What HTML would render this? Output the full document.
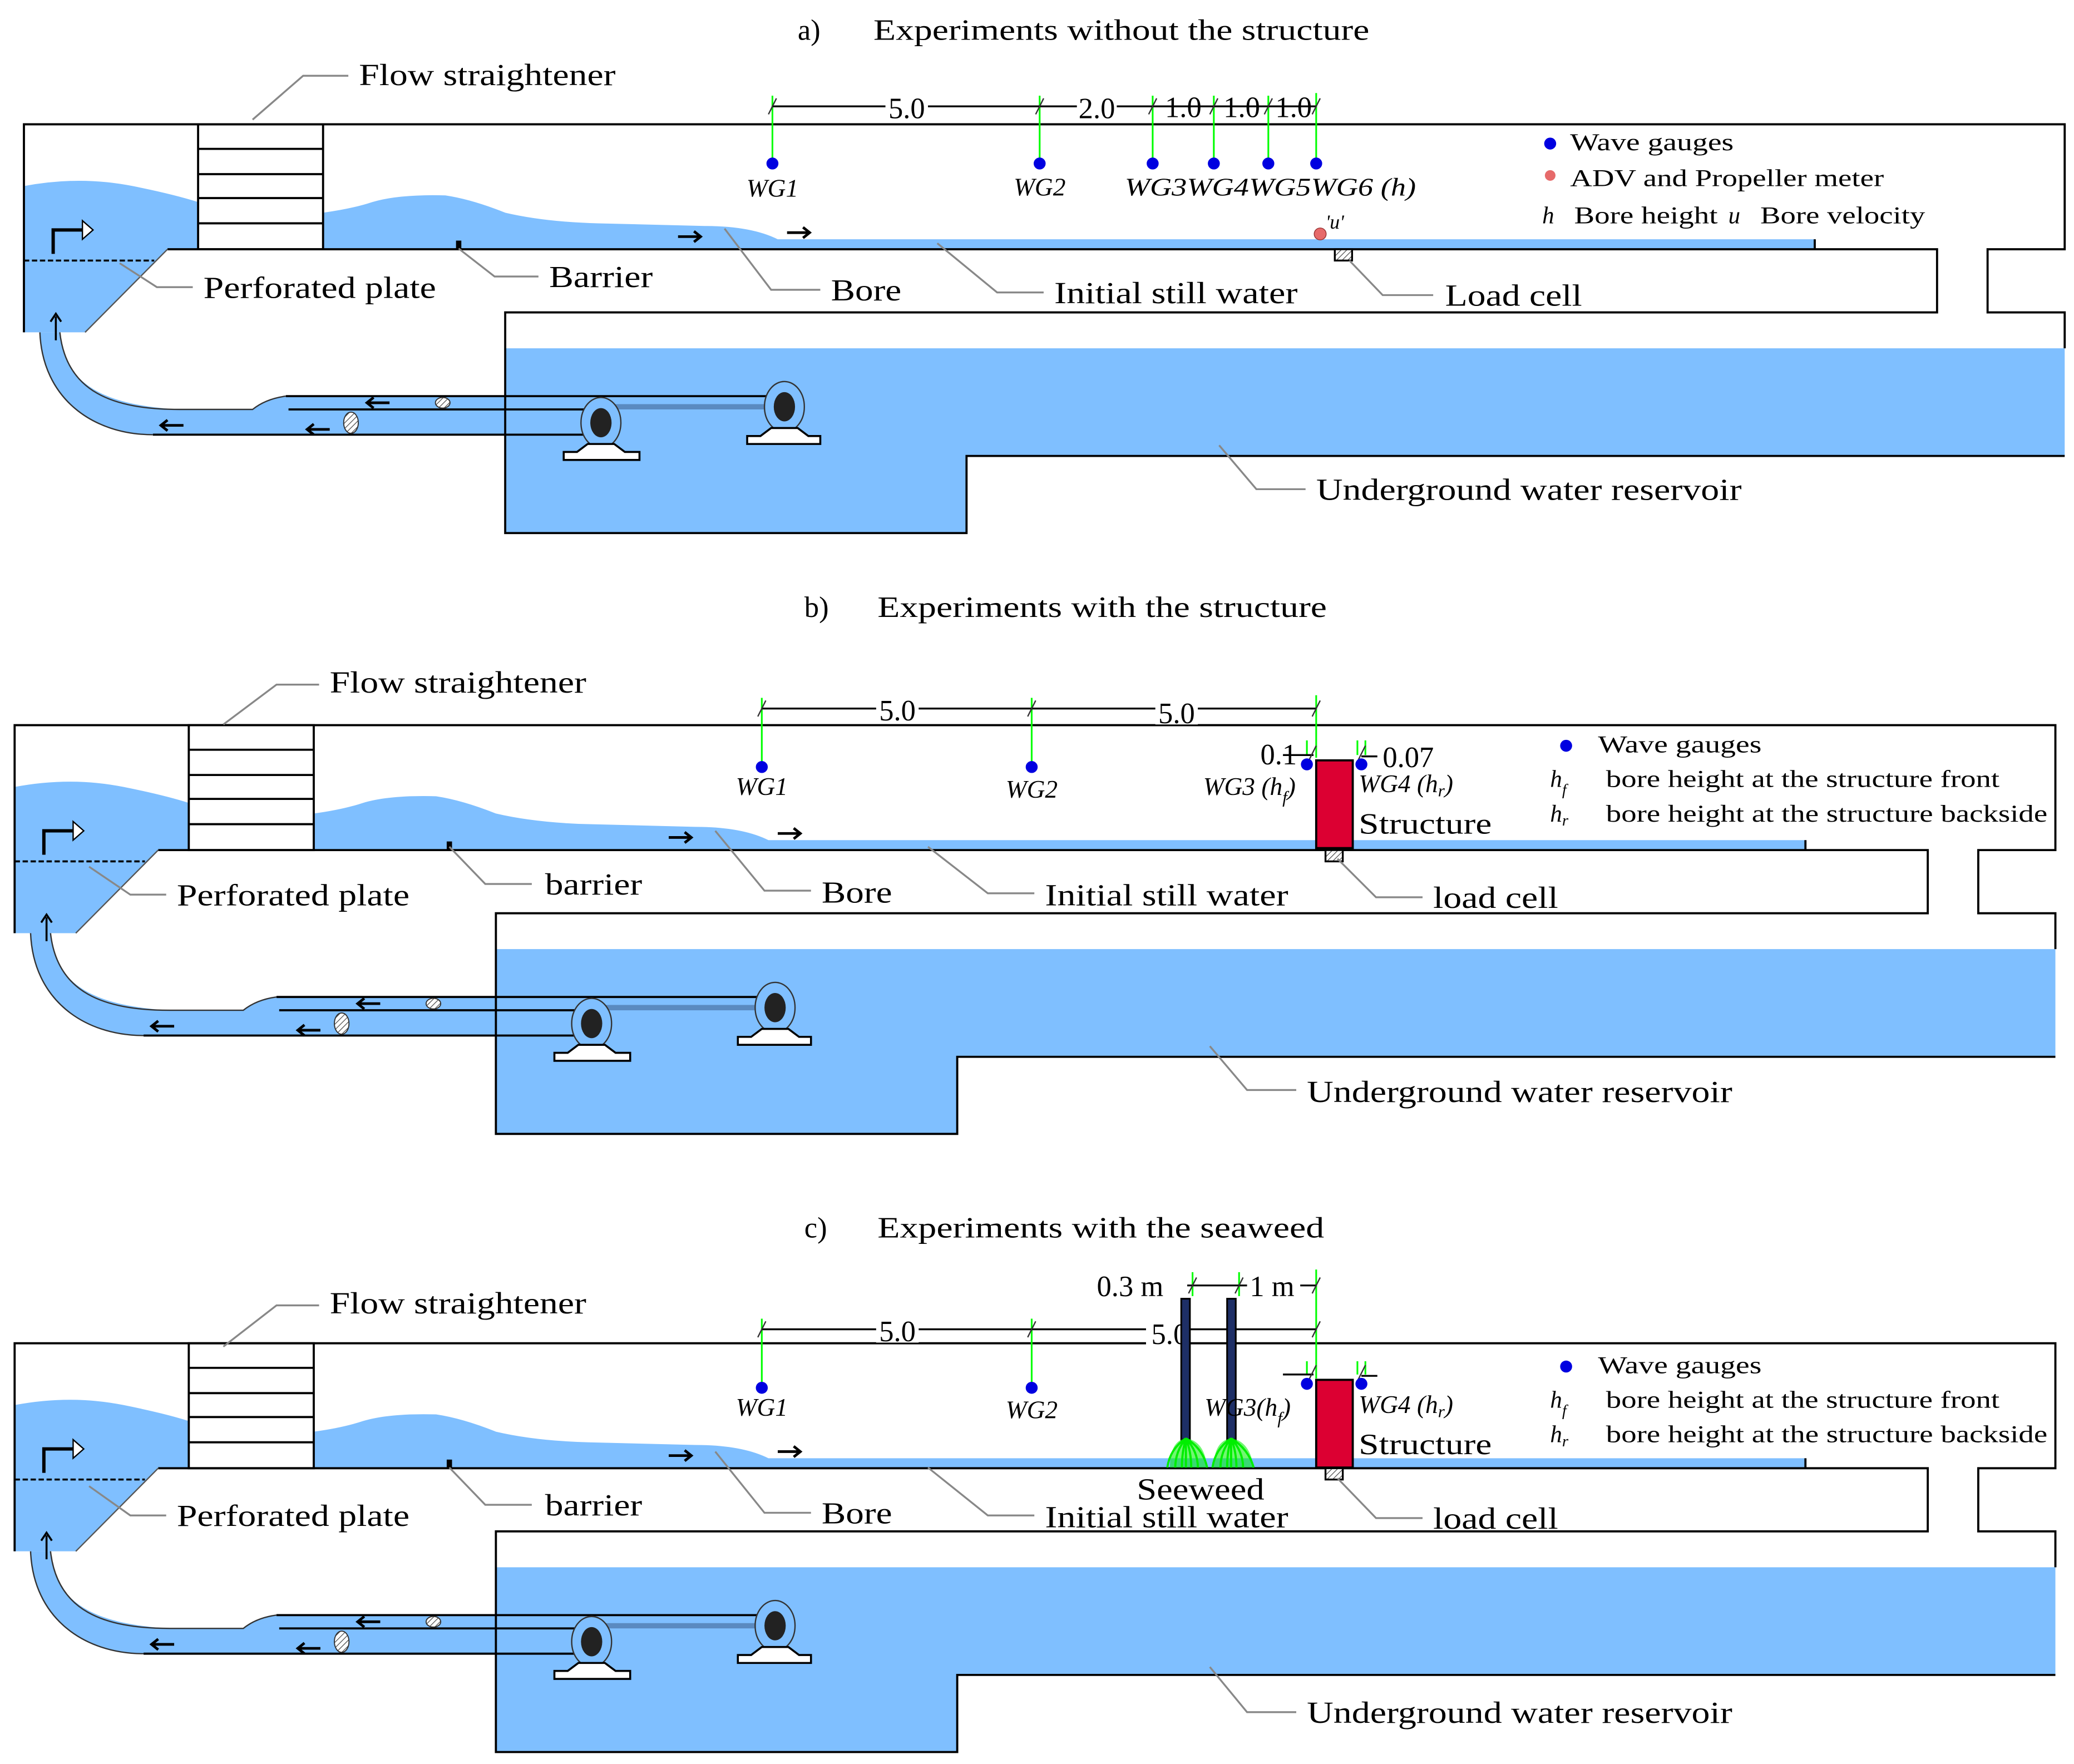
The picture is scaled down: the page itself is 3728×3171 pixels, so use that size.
<!DOCTYPE html>
<html><head><meta charset="utf-8">
<style>
html,body{margin:0;padding:0;background:#fff;}
svg{display:block;}
text{font-family:"Liberation Serif","Times New Roman",serif;fill:#000;}
.it{font-style:italic;}
</style></head>
<body>
<svg width="3728" height="3171" viewBox="0 0 1560 1327" preserveAspectRatio="none" xmlns="http://www.w3.org/2000/svg">
<defs>
<pattern id="hatch" width="3" height="3" patternUnits="userSpaceOnUse" patternTransform="rotate(45)">
<rect width="3" height="3" fill="#fff"/><line x1="0" y1="0" x2="0" y2="3" stroke="#444" stroke-width="1"/>
</pattern>
<g id="base">
<!-- water fills -->
<path d="M18,140 Q60,132 100,140 Q130,146 149,152 L149,187 L126,187 L64,250 L18,250 Z" fill="#7fbfff"/>
<path d="M243,160 Q265,157 280,152 Q300,146 335,147 Q355,150 380,160 Q410,167 450,168 L530,170 Q565,170 585,180 L1365,180 L1365,187 L243,187 Z" fill="#7fbfff"/>
<path d="M30,250 C32,300 70,327 115,327 L600,327 L600,298 L215,298 Q200,300 190,308 L135,308 C80,305 48,290 45,250 Z" fill="#7fbfff"/>
<path d="M380,262 L1553,262 L1553,343 L727,343 L727,401 L380,401 Z" fill="#7fbfff"/>
<!-- structure outlines -->
<g fill="none" stroke="#000" stroke-width="1.6">
<path d="M18,250 L18,93.5 L1553,93.5 L1553,187.5 L1495,187.5 L1495,235 L1553,235 L1553,262"/>
<path d="M126,187.5 L1457,187.5 L1457,235 L380,235 L380,401 L727,401 L727,343 L1553,343"/>
<rect x="149" y="93.5" width="94" height="94"/>
<path d="M149,112 H243 M149,131 H243 M149,149 H243 M149,168 H243"/>
<path d="M115,327 L452,327 M215,298 L590,298 M217,308 L452,308"/>
<path d="M1365,180 V187"/>
</g>
<path d="M126,187.5 L64,250" stroke="#555" stroke-width="1" fill="none"/>
<path d="M30,250 C32,300 70,327 115,327" stroke="#333" stroke-width="1" fill="none"/>
<path d="M45,250 C50,295 85,308 135,308 L190,308 Q200,300 215,298" stroke="#333" stroke-width="1" fill="none"/>
<path d="M18,196 L116,196" stroke="#000" stroke-width="1.5" stroke-dasharray="4,2" fill="none"/>
<!-- inlet arrow -->
<path d="M40,191 L40,173 L62,173" stroke="#000" stroke-width="2.5" fill="none"/>
<path d="M62,166 L70,173 L62,180 Z" fill="#fff" stroke="#000" stroke-width="1"/>
<path d="M42,256 L42,238 M38,242 L42,236 L46,242" stroke="#000" stroke-width="1.5" fill="none"/>
<!-- barrier -->
<rect x="343" y="181" width="4" height="6" fill="#000"/>
<!-- pipe arrows -->
<g stroke="#000" stroke-width="2" fill="none">
<path d="M122,320 H138 M126,316 L121,320 L126,324"/>
<path d="M232,323 H248 M236,319 L231,323 L236,327"/>
<path d="M277,303 H293 M281,299 L276,303 L281,307"/>
<path d="M510,178 H526 M522,174 L527,178 L522,182"/>
<path d="M592,175 H608 M604,171 L609,175 L604,179"/>
</g>
<ellipse cx="264" cy="318" rx="5.5" ry="8" fill="url(#hatch)" stroke="#333" stroke-width="0.8"/>
<ellipse cx="333" cy="303" rx="5.5" ry="4" fill="url(#hatch)" stroke="#333" stroke-width="0.8"/>
<!-- pumps -->
<path d="M590,306 L452,306" stroke="#5a8ac0" stroke-width="4"/>
<ellipse cx="452" cy="318" rx="15" ry="19" fill="#7fbfff" stroke="#333" stroke-width="1"/>
<ellipse cx="452" cy="318" rx="8" ry="11" fill="#222"/>
<path d="M442,334 L462,334 L470,340 L481,340 L481,346 L424,346 L424,340 L434,340 Z" fill="#fff" stroke="#000" stroke-width="1.5"/>
<ellipse cx="590" cy="306" rx="15" ry="19" fill="#7fbfff" stroke="#333" stroke-width="1"/>
<ellipse cx="590" cy="306" rx="8" ry="11" fill="#222"/>
<path d="M580,322 L600,322 L608,328 L617,328 L617,334 L562,334 L562,328 L572,328 Z" fill="#fff" stroke="#000" stroke-width="1.5"/>
<!-- load cell -->
<rect x="1004" y="187.5" width="13" height="8.5" fill="url(#hatch)" stroke="#000" stroke-width="1.4"/>
</g>
</defs>

<!-- ============ PANEL A ============ -->
<use href="#base"/>
<text x="600" y="30" font-size="22">a)</text>
<text x="657" y="30" font-size="22" textLength="373" lengthAdjust="spacingAndGlyphs">Experiments without the structure</text>
<!-- dimension line -->
<g stroke="#0f0" stroke-width="1.3"><path d="M581,72 V120 M782,72 V120 M867,72 V120 M913,72 V120 M954,72 V120 M990,70 V120"/></g>
<path d="M581,80 H990" stroke="#000" stroke-width="1.4"/>
<g stroke="#333" stroke-width="1"><path d="M578,86 L584,74 M779,86 L785,74 M864,86 L870,74 M910,86 L916,74 M951,86 L957,74 M987,86 L993,74"/></g>
<rect x="666" y="70" width="32" height="20" fill="#fff"/><text x="682" y="89" font-size="22" text-anchor="middle">5.0</text>
<rect x="810" y="70" width="30" height="20" fill="#fff"/><text x="825" y="89" font-size="22" text-anchor="middle">2.0</text>
<text x="890" y="88" font-size="22" text-anchor="middle">1.0</text>
<text x="934" y="88" font-size="22" text-anchor="middle">1.0</text>
<text x="973" y="88" font-size="22" text-anchor="middle">1.0</text>
<g fill="#0000e0"><circle cx="581" cy="123" r="4.5"/><circle cx="782" cy="123" r="4.5"/><circle cx="867" cy="123" r="4.5"/><circle cx="913" cy="123" r="4.5"/><circle cx="954" cy="123" r="4.5"/><circle cx="990" cy="123" r="4.5"/></g>
<text x="581" y="148" font-size="19" class="it" text-anchor="middle">WG1</text>
<text x="782" y="147" font-size="19" class="it" text-anchor="middle">WG2</text>
<text x="846" y="147" font-size="19" class="it" textLength="219" lengthAdjust="spacingAndGlyphs">WG3WG4WG5WG6 (h)</text>
<circle cx="993" cy="176" r="4.5" fill="#e66a6a" stroke="#933" stroke-width="0.6"/>
<text x="997" y="172" font-size="15" class="it">'u'</text>
<!-- legend -->
<circle cx="1166" cy="108" r="4.5" fill="#0000e0"/>
<text x="1181" y="113" font-size="18" textLength="123" lengthAdjust="spacingAndGlyphs">Wave gauges</text>
<circle cx="1166" cy="132" r="4" fill="#e66a6a"/>
<text x="1181" y="140" font-size="18" textLength="236" lengthAdjust="spacingAndGlyphs">ADV and Propeller meter</text>
<text x="1160" y="168" font-size="18" class="it">h</text>
<text x="1184" y="168" font-size="18" textLength="108" lengthAdjust="spacingAndGlyphs">Bore height</text>
<text x="1300" y="168" font-size="18" class="it">u</text>
<text x="1324" y="168" font-size="18" textLength="124" lengthAdjust="spacingAndGlyphs">Bore velocity</text>
<!-- leaders -->
<g fill="none" stroke="#888" stroke-width="1.4">
<path d="M190,90 L228,57 L262,57"/>
<path d="M90,198 L118,216 L145,216"/>
<path d="M345,187 L372,208 L405,208"/>
<path d="M545,172 L580,218 L617,218"/>
<path d="M705,183 L750,220 L785,220"/>
<path d="M1015,196 L1040,222 L1078,222"/>
<path d="M917,335 L945,368 L982,368"/>
</g>
<text x="270" y="64" font-size="23" textLength="193" lengthAdjust="spacingAndGlyphs">Flow straightener</text>
<text x="153" y="224" font-size="23" textLength="175" lengthAdjust="spacingAndGlyphs">Perforated plate</text>
<text x="413" y="216" font-size="23" textLength="78" lengthAdjust="spacingAndGlyphs">Barrier</text>
<text x="625" y="226" font-size="23" textLength="53" lengthAdjust="spacingAndGlyphs">Bore</text>
<text x="793" y="228" font-size="23" textLength="183" lengthAdjust="spacingAndGlyphs">Initial still water</text>
<text x="1087" y="230" font-size="23" textLength="103" lengthAdjust="spacingAndGlyphs">Load cell</text>
<text x="990" y="376" font-size="23" textLength="320" lengthAdjust="spacingAndGlyphs">Underground water reservoir</text>

<!-- ============ PANEL B ============ -->
<use href="#base" transform="translate(-7,452)"/>
<rect x="990" y="572" width="27.5" height="66" fill="#dc0032" stroke="#000" stroke-width="1.6"/>
<text x="605" y="464" font-size="22">b)</text>
<text x="660" y="464" font-size="22" textLength="338" lengthAdjust="spacingAndGlyphs">Experiments with the structure</text>
<g stroke="#0f0" stroke-width="1.3"><path d="M573,525 V574 M776,525 V574 M990,523 V570 M983,557 V568 M1021,557 V568 M1027,557 V568"/></g>
<path d="M573,533 H990" stroke="#000" stroke-width="1.4"/>
<path d="M965,568 H988 M1024,569 H1036" stroke="#000" stroke-width="1.4"/>
<g stroke="#333" stroke-width="1"><path d="M570,539 L576,527 M773,539 L779,527 M987,539 L993,527 M984,573 L990,561 M1021,573 L1027,561"/></g>
<rect x="659" y="523" width="32" height="20" fill="#fff"/><text x="675" y="542" font-size="22" text-anchor="middle">5.0</text>
<rect x="869" y="525" width="32" height="20" fill="#fff"/><text x="885" y="544" font-size="22" text-anchor="middle">5.0</text>
<text x="948" y="575" font-size="22">0.1</text>
<text x="1040" y="577" font-size="22">0.07</text>
<g fill="#0000e0"><circle cx="573" cy="577" r="4.5"/><circle cx="776" cy="577" r="4.5"/><circle cx="983" cy="575" r="4.5"/><circle cx="1024" cy="575" r="4.5"/></g>
<text x="573" y="598" font-size="19" class="it" text-anchor="middle">WG1</text>
<text x="776" y="600" font-size="19" class="it" text-anchor="middle">WG2</text>
<text x="905" y="598" font-size="19" class="it">WG3 (h<tspan font-size="13" dy="6">f</tspan><tspan dy="-6">)</tspan></text>
<text x="1022" y="596" font-size="19" class="it">WG4 (h<tspan font-size="13" dy="3">r</tspan><tspan dy="-3">)</tspan></text>
<text x="1022" y="627" font-size="22" textLength="100" lengthAdjust="spacingAndGlyphs">Structure</text>
<circle cx="1178" cy="561" r="4.5" fill="#0000e0"/>
<text x="1202" y="566" font-size="18" textLength="123" lengthAdjust="spacingAndGlyphs">Wave gauges</text>
<text x="1166" y="592" font-size="18" class="it">h<tspan font-size="12" dy="6">f</tspan></text>
<text x="1208" y="592" font-size="18" textLength="296" lengthAdjust="spacingAndGlyphs">bore height at the structure front</text>
<text x="1166" y="618" font-size="18" class="it">h<tspan font-size="12" dy="3">r</tspan></text>
<text x="1208" y="618" font-size="18" textLength="332" lengthAdjust="spacingAndGlyphs">bore height at the structure backside</text>
<g fill="none" stroke="#888" stroke-width="1.4">
<path d="M168,545 L208,515 L240,515"/>
<path d="M67,652 L98,673 L125,673"/>
<path d="M338,637 L365,665 L400,665"/>
<path d="M538,625 L575,670 L610,670"/>
<path d="M698,637 L743,672 L778,672"/>
<path d="M1006,646 L1035,675 L1070,675"/>
<path d="M910,787 L938,820 L975,820"/>
</g>
<text x="248" y="521" font-size="23" textLength="193" lengthAdjust="spacingAndGlyphs">Flow straightener</text>
<text x="133" y="681" font-size="23" textLength="175" lengthAdjust="spacingAndGlyphs">Perforated plate</text>
<text x="410" y="673" font-size="23" textLength="73" lengthAdjust="spacingAndGlyphs">barrier</text>
<text x="618" y="679" font-size="23" textLength="53" lengthAdjust="spacingAndGlyphs">Bore</text>
<text x="786" y="681" font-size="23" textLength="183" lengthAdjust="spacingAndGlyphs">Initial still water</text>
<text x="1078" y="683" font-size="23" textLength="94" lengthAdjust="spacingAndGlyphs">load cell</text>
<text x="983" y="829" font-size="23" textLength="320" lengthAdjust="spacingAndGlyphs">Underground water reservoir</text>

<!-- ============ PANEL C ============ -->
<use href="#base" transform="translate(-7,917)"/>
<rect x="990" y="1038" width="27.5" height="66" fill="#dc0032" stroke="#000" stroke-width="1.6"/>
<text x="605" y="931" font-size="22">c)</text>
<text x="660" y="931" font-size="22" textLength="336" lengthAdjust="spacingAndGlyphs">Experiments with the seaweed</text>
<g stroke="#0f0" stroke-width="1.3"><path d="M573,992 V1041 M776,992 V1041 M990,955 V1037 M897,957 V975 M932,957 V975 M983,1024 V1034 M1021,1024 V1034 M1027,1024 V1034"/></g>
<path d="M573,1000 H990" stroke="#000" stroke-width="1.4"/>
<path d="M893,967 H990" stroke="#000" stroke-width="1.4"/>
<path d="M965,1034 H988 M1024,1035 H1036" stroke="#000" stroke-width="1.4"/>
<g stroke="#333" stroke-width="1"><path d="M570,1006 L576,994 M773,1006 L779,994 M987,1006 L993,994 M894,973 L900,961 M929,973 L935,961 M987,973 L993,961 M984,1039 L990,1027 M1021,1039 L1027,1027"/></g>
<rect x="659" y="990" width="32" height="20" fill="#fff"/><text x="675" y="1009" font-size="22" text-anchor="middle">5.0</text>
<rect x="862" y="992" width="26" height="20" fill="#fff"/><text x="866" y="1011" font-size="22">5.0</text>
<rect x="822" y="957" width="70" height="20" fill="#fff"/><text x="825" y="975" font-size="22">0.3 m</text>
<rect x="938" y="957" width="40" height="20" fill="#fff"/><text x="940" y="975" font-size="22">1 m</text>
<!-- seaweed posts -->
<rect x="888.5" y="977" width="6.5" height="106" fill="#1e2f66" stroke="#000" stroke-width="1.3"/>
<rect x="923" y="977" width="6.5" height="106" fill="#1e2f66" stroke="#000" stroke-width="1.3"/>
<g stroke="#00ee00" stroke-width="1.6" fill="none">
<path d="M892,1082 Q880,1090 878,1104 M892,1082 Q884,1092 884,1104 M892,1082 Q889,1092 889,1104 M892,1082 V1104 M892,1082 Q896,1092 896,1104 M892,1082 Q901,1092 901,1104 M892,1082 Q905,1090 908,1104"/>
<path d="M926,1082 Q914,1090 912,1104 M926,1082 Q918,1092 918,1104 M926,1082 Q923,1092 923,1104 M926,1082 V1104 M926,1082 Q930,1092 930,1104 M926,1082 Q935,1092 935,1104 M926,1082 Q939,1090 943,1104"/>
</g>
<path d="M880,1104 Q880,1084 892,1082 Q906,1084 908,1104 Z M913,1104 Q913,1084 926,1082 Q940,1084 943,1104 Z" fill="#00ee00" opacity="0.55"/>
<g fill="#0000e0"><circle cx="573" cy="1044" r="4.5"/><circle cx="776" cy="1044" r="4.5"/><circle cx="983" cy="1041" r="4.5"/><circle cx="1024" cy="1041" r="4.5"/></g>
<text x="573" y="1065" font-size="19" class="it" text-anchor="middle">WG1</text>
<text x="776" y="1067" font-size="19" class="it" text-anchor="middle">WG2</text>
<text x="906" y="1065" font-size="19" class="it">WG3(h<tspan font-size="13" dy="6">f</tspan><tspan dy="-6">)</tspan></text>
<text x="1022" y="1063" font-size="19" class="it">WG4 (h<tspan font-size="13" dy="3">r</tspan><tspan dy="-3">)</tspan></text>
<text x="1022" y="1094" font-size="22" textLength="100" lengthAdjust="spacingAndGlyphs">Structure</text>
<circle cx="1178" cy="1028" r="4.5" fill="#0000e0"/>
<text x="1202" y="1033" font-size="18" textLength="123" lengthAdjust="spacingAndGlyphs">Wave gauges</text>
<text x="1166" y="1059" font-size="18" class="it">h<tspan font-size="12" dy="6">f</tspan></text>
<text x="1208" y="1059" font-size="18" textLength="296" lengthAdjust="spacingAndGlyphs">bore height at the structure front</text>
<text x="1166" y="1085" font-size="18" class="it">h<tspan font-size="12" dy="3">r</tspan></text>
<text x="1208" y="1085" font-size="18" textLength="332" lengthAdjust="spacingAndGlyphs">bore height at the structure backside</text>
<g fill="none" stroke="#888" stroke-width="1.4">
<path d="M168,1013 L208,982 L240,982"/>
<path d="M67,1118 L98,1140 L125,1140"/>
<path d="M338,1104 L365,1132 L400,1132"/>
<path d="M538,1092 L575,1138 L610,1138"/>
<path d="M698,1104 L743,1140 L778,1140"/>
<path d="M1006,1112 L1035,1142 L1070,1142"/>
<path d="M910,1254 L938,1288 L975,1288"/>
</g>
<text x="248" y="988" font-size="23" textLength="193" lengthAdjust="spacingAndGlyphs">Flow straightener</text>
<text x="133" y="1148" font-size="23" textLength="175" lengthAdjust="spacingAndGlyphs">Perforated plate</text>
<text x="410" y="1140" font-size="23" textLength="73" lengthAdjust="spacingAndGlyphs">barrier</text>
<text x="618" y="1146" font-size="23" textLength="53" lengthAdjust="spacingAndGlyphs">Bore</text>
<text x="855" y="1128" font-size="23" textLength="96" lengthAdjust="spacingAndGlyphs">Seeweed</text>
<text x="786" y="1149" font-size="23" textLength="183" lengthAdjust="spacingAndGlyphs">Initial still water</text>
<text x="1078" y="1150" font-size="23" textLength="94" lengthAdjust="spacingAndGlyphs">load cell</text>
<text x="983" y="1296" font-size="23" textLength="320" lengthAdjust="spacingAndGlyphs">Underground water reservoir</text>
</svg>
</body></html>
